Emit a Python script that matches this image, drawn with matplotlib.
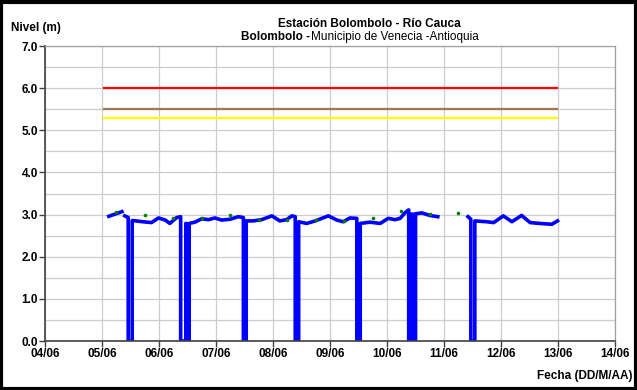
import matplotlib
matplotlib.use('Agg')
import matplotlib.pyplot as plt
import numpy as np

plt.rcParams['font.family'] = ['Liberation Sans', 'DejaVu Sans']

# days counted from 04/06 00:00
tick_labels = ['04/06', '05/06', '06/06', '07/06', '08/06', '09/06',
               '10/06', '11/06', '12/06', '13/06', '14/06']

# nivel registrado (ceros = sin dato del sensor, nan = hueco)
nivel_dias = [1.12, 1.35, 1.37, 1.40, 1.46, 1.46, 1.53, 1.53, 1.72, 1.87, 1.99, 2.11, 2.19,
              2.31, 2.38, 2.38, 2.47, 2.47, 2.48, 2.48, 2.53, 2.53, 2.63, 2.75, 2.87,
              2.98, 3.10, 3.25, 3.39, 3.48, 3.48, 3.53, 3.53, 3.65, 3.80, 3.98, 4.12,
              4.24, 4.33, 4.39, 4.39, 4.45, 4.45, 4.59, 4.74, 4.97, 5.12, 5.23, 5.35,
              5.47, 5.47, 5.53, 5.53, 5.70, 5.88, 6.02, 6.14, 6.23, 6.32, 6.38, 6.38,
              6.41, 6.41, 6.46, 6.46, 6.50, 6.50, 6.61, 6.75, 6.89, 7.10, 7.42, 7.47,
              7.47, 7.54, 7.54, 7.75, 7.87, 8.04, 8.19, 8.36, 8.51, 8.68, 8.89, 8.99]
nivel_m = [2.96, 3.07, np.nan, 2.97, 2.93, 0.0, 0.0, 2.86, 2.83, 2.81, 2.92, 2.87, 2.79,
           2.93, 2.95, 0.0, 0.0, 2.79, 2.79, 0.0, 0.0, 2.79, 2.82, 2.90, 2.88,
           2.92, 2.87, 2.89, 2.95, 2.93, 0.0, 0.0, 2.85, 2.85, 2.88, 2.97, 2.85,
           2.88, 2.97, 2.95, 0.0, 0.0, 2.83, 2.79, 2.85, 2.97, 2.87, 2.83, 2.92,
           2.91, 0.0, 0.0, 2.79, 2.82, 2.79, 2.91, 2.88, 2.91, 3.05, 3.11, 0.0,
           0.0, 3.01, 3.01, 0.0, 0.0, 3.02, 3.04, 2.98, 2.95, np.nan, 2.95, 2.89,
           0.0, 0.0, 2.85, 2.83, 2.81, 2.97, 2.83, 2.98, 2.81, 2.79, 2.77, 2.85]

# lecturas de mira
mira_dias = [1.25, 1.75, 2.25, 2.75, 3.25, 3.75, 4.25, 4.75, 5.25, 5.75, 6.25, 6.75, 7.25]
mira_m = [3.06, 3.00, 2.92, 2.93, 3.00, 2.86, 2.88, 2.86, 2.85, 2.91, 3.09, 3.01, 3.04]

# umbrales de alerta
umbral_dias = [1.03, 8.98]
umbral_rojo = [6.0, 6.0]
umbral_naranja = [5.5, 5.5]
umbral_amarillo = [5.3, 5.3]

fig = plt.figure(figsize=(6.37, 3.90), dpi=100)
ax = fig.add_axes([0.0706, 0.1256, 0.895, 0.7564])

ax.plot(umbral_dias, umbral_rojo, color='#ff0000', lw=1.6)
ax.plot(umbral_dias, umbral_naranja, color='#a07850', lw=1.6)
ax.plot(umbral_dias, umbral_amarillo, color='#ffff00', lw=1.6)
ax.plot(nivel_dias, nivel_m, color='#0000ff', lw=2.6, solid_joinstyle='round')
ax.plot(mira_dias, mira_m, 'o', color='#008000', ms=2.6, mec='none')

ax.set_xlim(0, 10)
ax.set_ylim(0, 7)
ax.set_xticks(range(11))
ax.set_xticklabels(tick_labels, fontweight='bold', fontsize=8.5)
ax.set_yticks(np.arange(0, 7.5, 1.0))
ax.set_yticklabels(['%.1f' % v for v in np.arange(0, 7.5, 1.0)], fontweight='bold', fontsize=8.5)
ax.set_yticks(np.arange(0, 7.5, 0.5), minor=True)
ax.tick_params(axis='y', which='minor', length=0)
ax.tick_params(axis='both', which='major', length=4, width=1, color='#404040', pad=1)
ax.grid(True, which='both', color='#cccccc', lw=0.9)
ax.set_axisbelow(True)
for s in ['left', 'bottom']:
    ax.spines[s].set_color('#404040')
    ax.spines[s].set_linewidth(1.2)
for s in ['top', 'right']:
    ax.spines[s].set_color('#a0a0a0')
    ax.spines[s].set_linewidth(0.9)

fig.text(0.018, 0.928, 'Nivel (m)', fontweight='bold', fontsize=8.5, ha='left', va='center')
fig.text(0.58, 0.938, 'Estación Bolombolo - Río Cauca', fontweight='bold', fontsize=8.5,
         ha='center', va='center')
t1 = fig.text(0.378, 0.905, 'Bolombolo -', fontweight='bold', fontsize=8.5, ha='left', va='center')
fig.canvas.draw()
bb = t1.get_window_extent().transformed(fig.transFigure.inverted())
fig.text(bb.x1 + 0.001, 0.905, 'Municipio de Venecia -Antioquia', fontsize=8.5,
         ha='left', va='center')
fig.text(0.993, 0.035, 'Fecha (DD/M/AA)', fontweight='bold', fontsize=8.5, ha='right', va='center')

frame = plt.Rectangle((0.002, 0.003), 0.996, 0.991, transform=fig.transFigure,
                      fill=False, edgecolor='black', lw=3)
fig.patches.append(frame)

fig.savefig('out.png', dpi=100)
